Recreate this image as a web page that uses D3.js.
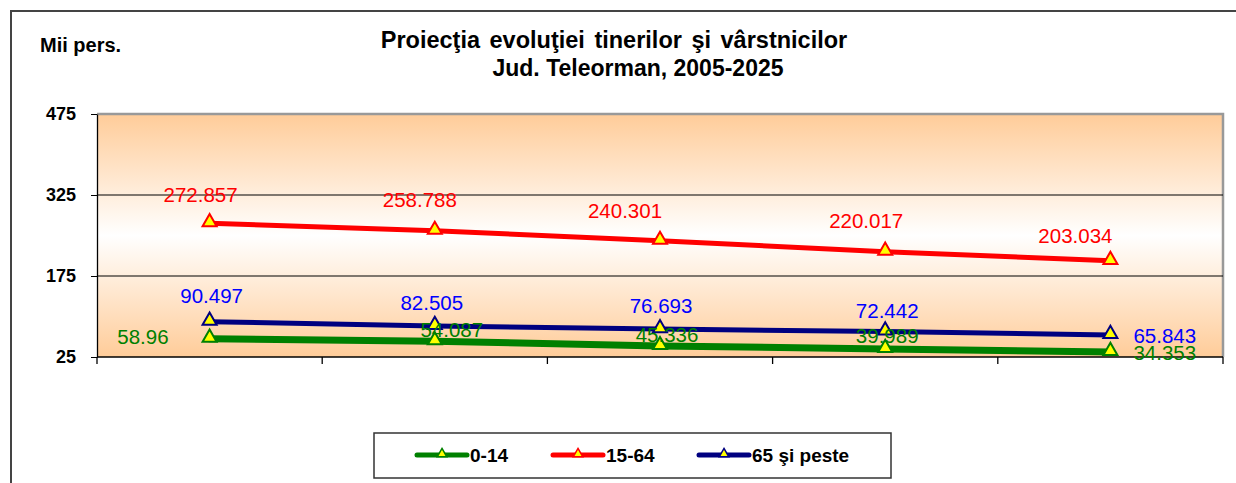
<!DOCTYPE html>
<html><head><meta charset="utf-8">
<script src="https://cdn.jsdelivr.net/npm/d3@7"></script>
<style>body{margin:0;background:#fff}svg{display:block;font-family:Arial,"Liberation Sans",sans-serif}</style>
</head><body>
<svg id="c" width="1236" height="483"></svg>
<script>
// ---- data ----
const categories = ["2005", "2010", "2015", "2020", "2025"];
const values0_14 = [58.96, 54.087, 45.336, 39.989, 34.353];
const values15_64 = [272.857, 258.788, 240.301, 220.017, 203.034];
const values65 = [90.497, 82.505, 76.693, 72.442, 65.843];
const seriesNames = ["0-14", "15-64", "65 şi peste"];
const yTicks = [25, 175, 325, 475];

// ---- styles / label placement (not data) ----
const seriesStyle = [
  {color: "#008000", width: 7, label: "#008000"},
  {color: "#FF0000", width: 5, label: "#FF0000"},
  {color: "#000080", width: 5, label: "#0000FF"}
];
// [dx, dy, anchor] per point
const labelPlace = [
  [[-41, 5, "end"], [17, -4, "middle"], [7, -4, "middle"], [2, -6, "middle"], [23, 8, "start"]],
  [[-9, -21, "middle"], [-15, -24, "middle"], [-35, -23, "middle"], [-19, -24, "middle"], [-35, -18, "middle"]],
  [[2, -19, "middle"], [-3, -16, "middle"], [1, -16, "middle"], [2, -13, "middle"], [23, 8, "start"]]
];

const series = [values0_14, values15_64, values65];
const svg = d3.select("#c");
const m = {l: 97, t: 114, r: 1223, b: 357};

const x = d3.scaleBand().domain(categories).range([m.l, m.r]);
const y = d3.scaleLinear().domain([25, 475]).range([m.b, m.t]);

// outer border
svg.append("path").attr("d", `M11,483 L11,11 L1236,11`).attr("fill", "none")
  .attr("stroke", "#444").attr("stroke-width", 2);

// gradient
const defs = svg.append("defs");
const g = defs.append("linearGradient").attr("id", "bg").attr("x1", 0).attr("y1", 0).attr("x2", 0).attr("y2", 1);
g.append("stop").attr("offset", "0%").attr("stop-color", "#FFCC99");
g.append("stop").attr("offset", "50%").attr("stop-color", "#FFFFFF");
g.append("stop").attr("offset", "100%").attr("stop-color", "#FFCC99");

svg.append("rect").attr("x", m.l).attr("y", m.t).attr("width", m.r - m.l).attr("height", m.b - m.t)
  .attr("fill", "url(#bg)");
// plot border (top, right) gray
svg.append("path").attr("d", `M${m.l},${m.t} L${m.r},${m.t} L${m.r},${m.b}`).attr("fill", "none")
  .attr("stroke", "#999").attr("stroke-width", 2.5);

// gridlines
svg.append("g").selectAll("line").data(yTicks.filter(d => d !== 25 && d !== 475)).join("line")
  .attr("x1", m.l).attr("x2", m.r).attr("y1", d => y(d)).attr("y2", d => y(d))
  .attr("stroke", "#000").attr("stroke-width", 1.2);

// y axis (ticks via d3 axis, labels placed explicitly)
const ya = svg.append("g").attr("transform", `translate(${m.l},0)`)
  .call(d3.axisLeft(y).tickValues(yTicks).tickSize(6).tickSizeOuter(0).tickFormat(""));
ya.select(".domain").attr("stroke", "#000").attr("stroke-width", 1.3);
ya.selectAll(".tick line").attr("stroke", "#000");
svg.append("g").selectAll("text").data(yTicks).join("text")
  .attr("x", m.l - 21).attr("y", d => y(d) + 6).attr("text-anchor", "end")
  .attr("font-size", 18).attr("font-weight", "bold").attr("fill", "#000")
  .text(d => d3.format("d")(d));

// x axis with boundary ticks
const xa = svg.append("g").attr("transform", `translate(0,${m.b})`);
xa.append("line").attr("x1", m.l).attr("x2", m.r).attr("stroke", "#000").attr("stroke-width", 1.3);
const bounds = categories.map(c => x(c)).concat([m.r]);
xa.selectAll("line.t").data(bounds).join("line").attr("class", "t")
  .attr("x1", d => d).attr("x2", d => d).attr("y1", 0).attr("y2", 7).attr("stroke", "#000").attr("stroke-width", 1.3);

const cx = c => x(c) + x.bandwidth() / 2;
const tri = d3.symbol().type(d3.symbolTriangle).size(85);
const line = d3.line().x((d, i) => cx(categories[i])).y(d => y(d));

series.forEach((vals, si) => {
  const st = seriesStyle[si];
  svg.append("path").datum(vals).attr("d", line).attr("fill", "none")
    .attr("stroke", st.color).attr("stroke-width", st.width).attr("stroke-linecap", "round");
});
series.forEach((vals, si) => {
  const st = seriesStyle[si];
  svg.append("g").selectAll("path").data(vals).join("path")
    .attr("d", tri).attr("transform", (d, i) => `translate(${cx(categories[i])},${y(d) - 1})`)
    .attr("fill", "#FFFF00").attr("stroke", st.color).attr("stroke-width", 2);
});
series.forEach((vals, si) => {
  const st = seriesStyle[si];
  svg.append("g").selectAll("text").data(vals).join("text")
    .attr("x", (d, i) => cx(categories[i]) + labelPlace[si][i][0])
    .attr("y", (d, i) => y(d) + labelPlace[si][i][1])
    .attr("text-anchor", (d, i) => labelPlace[si][i][2])
    .attr("font-size", 20.5).attr("fill", st.label)
    .text(d => String(d));
});

// titles
svg.append("text").attr("x", 614).attr("y", 48).attr("text-anchor", "middle")
  .attr("font-size", 23.5).attr("font-weight", "bold").attr("word-spacing", 3)
  .text("Proiecţia evoluţiei tinerilor şi vârstnicilor");
svg.append("text").attr("x", 638).attr("y", 76).attr("text-anchor", "middle")
  .attr("font-size", 23).attr("font-weight", "bold").text("Jud. Teleorman, 2005-2025");
svg.append("text").attr("x", 40).attr("y", 52)
  .attr("font-size", 20).attr("font-weight", "bold").text("Mii pers.");

// legend
const lg = svg.append("g");
lg.append("rect").attr("x", 374).attr("y", 433).attr("width", 517).attr("height", 45)
  .attr("fill", "#fff").attr("stroke", "#333").attr("stroke-width", 1.5);
const legX = [417, 553, 699];
seriesNames.forEach((n, i) => {
  const st = seriesStyle[i];
  const x0 = legX[i];
  lg.append("line").attr("x1", x0).attr("x2", x0 + 50).attr("y1", 455).attr("y2", 455)
    .attr("stroke", st.color).attr("stroke-width", 5).attr("stroke-linecap", "round");
  lg.append("path").attr("d", d3.symbol().type(d3.symbolTriangle).size(40))
    .attr("transform", `translate(${x0 + 25},454)`).attr("fill", "#FFFF00").attr("stroke", st.color).attr("stroke-width", 1.5);
  lg.append("text").attr("x", x0 + 53).attr("y", 462).attr("font-size", 19).attr("font-weight", "bold").text(n);
});
</script>
</body></html>
